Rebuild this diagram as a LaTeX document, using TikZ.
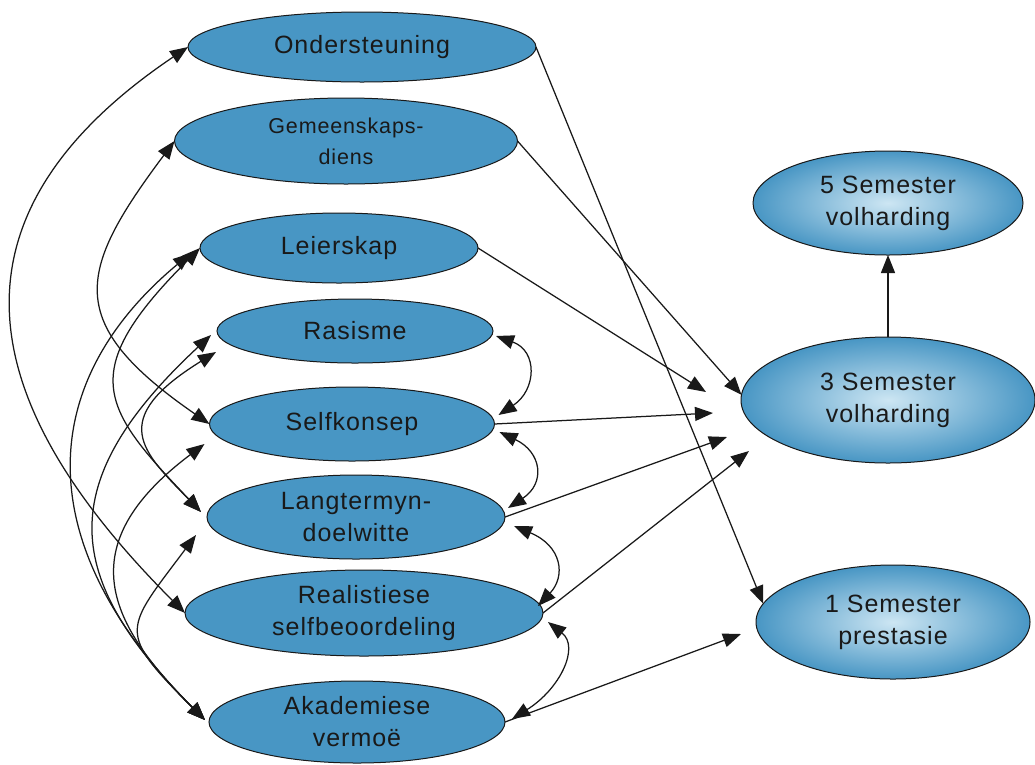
\documentclass[tikz,border=0pt]{standalone}
\usepackage{fontspec}
\setmainfont{Liberation Sans}[LetterSpace=4.0]
\usetikzlibrary{shapes.geometric,arrows.meta}
\definecolor{nodeblue}{RGB}{72,150,196}
\definecolor{glowc}{RGB}{205,230,243}
\definecolor{inkc}{RGB}{25,25,25}
\newcommand\mylbl{\fontsize{25}{32}\selectfont}
\newcommand\mysmall{\fontsize{21.5}{31}\selectfont}
\tikzset{
  ell/.style={ellipse, draw=inkc, line width=1pt, inner sep=0pt, outer sep=0pt,
    font=\mylbl, text=inkc, align=center},
  flat/.style={ell, fill=nodeblue},
  glow/.style={ell, inner color=glowc, outer color=nodeblue},
  con/.style={line width=1.25pt, draw=inkc},
  arr/.style={con, -{Triangle[length=18pt,width=14pt]}},
  dbl/.style={con, {Triangle[length=18pt,width=14pt]}-{Triangle[length=18pt,width=14pt]}}
}
\begin{document}
\begin{tikzpicture}[x=1pt,y=-1pt]
\useasboundingbox[fill=white] (0,0) rectangle (1035,764);
% left column
\node[flat, minimum width=348pt, minimum height=70pt] (ond) at (362,47) {Ondersteuning};
\node[flat, minimum width=343pt, minimum height=86pt, font=\mysmall] (gem) at (346,141) {Gemeenskaps-\\diens};
\node[flat, minimum width=278pt, minimum height=70pt] (lei) at (339,248) {Leierskap};
\node[flat, minimum width=276pt, minimum height=64pt] (ras) at (355,331) {Rasisme};
\node[flat, minimum width=285pt, minimum height=74pt] (self) at (352,424) {Selfkonsep};
\node[flat, minimum width=298pt, minimum height=84pt] (lang) at (356,517) {Langtermyn-\\doelwitte};
\node[flat, minimum width=358pt, minimum height=86pt] (real) at (364,613) {Realistiese\\selfbeoordeling};
\node[flat, minimum width=296pt, minimum height=82pt] (akad) at (357,722) {Akademiese\\vermoë};
% right column
\node[glow, minimum width=270pt, minimum height=104pt] (s5) at (888,203) {5 Semester\\volharding};
\node[glow, minimum width=294pt, minimum height=126pt] (s3) at (888,400) {3 Semester\\volharding};
\node[glow, minimum width=274pt, minimum height=114pt] (s1) at (893,622) {1 Semester\\prestasie};
% free ends of arrows that stop short of 3 Semester / 1 Semester
\coordinate (tLei) at (706,392);
\coordinate (tSelf) at (713,413);
\coordinate (tLang) at (727,437);
\coordinate (tReal) at (749,451);
\coordinate (tAkad) at (741,634);
% paths to the outcomes
\draw[arr] (ond.east) -- (s1.172);
\draw[arr] (gem.east) -- (s3.178);
\draw[arr] (lei.east) -- (tLei);
\draw[arr] (self.east) -- (tSelf);
\draw[arr] (lang.east) -- (tLang);
\draw[arr] (real.east) -- (tReal);
\draw[arr] (akad.east) -- (tAkad);
\draw[arr] (s3.north) -- (s5.south);
% covariances on the right of the left column
\draw[dbl] ([xshift=3pt,yshift=-5pt]ras.east) .. controls +(42,15) and +(38,-25) .. ([xshift=4pt,yshift=9pt]self.east);
\draw[dbl] ([xshift=5pt,yshift=-8pt]self.east) .. controls +(42,20) and +(38,-25) .. ([xshift=3pt,yshift=9pt]lang.east);
\draw[dbl] ([xshift=9pt,yshift=-9pt]lang.east) .. controls +(48,20) and +(28,-30) .. ([xshift=-5pt,yshift=7pt]real.east);
\draw[dbl] ([xshift=5pt,yshift=-9pt]real.east) .. controls +(32,25) and +(48,-30) .. ([xshift=7pt,yshift=3pt]akad.east);
% covariances on the left of the left column
\draw[dbl] (ond.west) .. controls +(-273,184) and +(-187,-187) .. (real.west);
\draw[dbl] (gem.west) .. controls +(-98,131) and +(-146,-101) .. (self.west);
\draw[dbl] ([xshift=-9pt,yshift=-5pt]lei.west) .. controls +(-157,131) and +(-175,-175) .. ([xshift=-4pt,yshift=2pt]akad.west);
\draw[dbl] (lei.west) .. controls +(-125,125) and +(-99,-104) .. ([xshift=-6pt,yshift=5pt]lang.west);
\draw[dbl] ([xshift=-6pt,yshift=-4pt]ras.west) .. controls +(-159,148) and +(-142,-142) .. ([xshift=-4pt,yshift=2pt]akad.west);
\draw[dbl] ([xshift=-1pt,yshift=-21pt]ras.west) .. controls +(-110,68) and +(-58,-60) .. ([xshift=-6pt,yshift=5pt]lang.west);
\draw[dbl] ([xshift=-5pt,yshift=-20pt]self.west) .. controls +(-137,103) and +(-95,-95) .. ([xshift=-4pt,yshift=2pt]akad.west);
\draw[dbl] ([xshift=-11pt,yshift=-18pt]lang.west) .. controls +(-72,96) and +(-89,-89) .. ([xshift=-4pt,yshift=2pt]akad.west);
\end{tikzpicture}
\end{document}
